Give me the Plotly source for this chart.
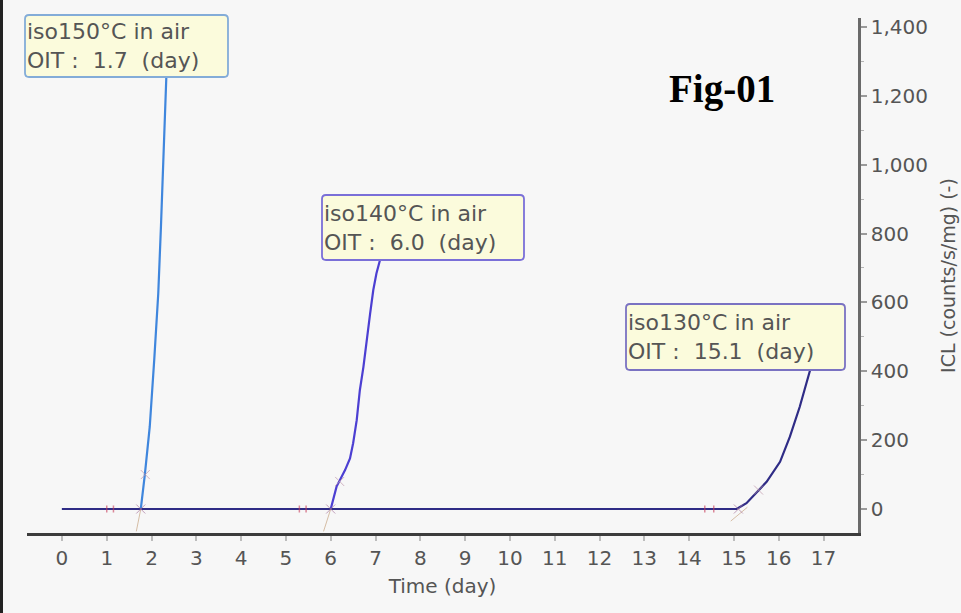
import plotly.graph_objects as go

# ---- data ----
t150 = [0, 1.76, 1.85, 1.96, 2.06, 2.15, 2.21, 2.26, 2.31, 2.33]
icl150 = [0, 0, 99, 239, 433, 626, 820, 1014, 1207, 1254]

t140 = [0, 6.0, 6.13, 6.32, 6.43, 6.50, 6.58, 6.65, 6.73, 6.80, 6.88, 6.95, 7.02, 7.10]
icl140 = [0, 0, 65, 113, 147, 191, 258, 345, 413, 491, 568, 636, 684, 723]

t130 = [0, 15.06, 15.28, 15.51, 15.73, 16.03, 16.25, 16.47, 16.70]
icl130 = [0, 0, 17, 50, 79, 137, 210, 297, 403]

# OIT construction marks
onset_t = [1.76, 6.0, 15.1]
onset_icl = [0, 0, 0]
tangent_t = [1.86, 6.2, 15.55]
tangent_icl = [100, 80, 55]
tan_lines_t = [[1.66, 1.76], [5.84, 6.0], [14.93, 15.3]]
tan_lines_icl = [[-65, 0], [-65, 0], [-35, 5]]
base_marks_t = [1.0, 1.15, 5.3, 5.45, 14.35, 14.55]
base_marks_icl = [0, 0, 0, 0, 0, 0]

labels = ["iso150°C in air", "iso140°C in air", "iso130°C in air"]
oit = ["1.7", "6.0", "15.1"]

x_ticks = list(range(0, 18))
y_ticks = [0, 200, 400, 600, 800, 1000, 1200, 1400]

# ---- layout geometry (pixels) ----
W, H = 961, 613
ML, MR, MT, MB = 27, 103, 18, 80
PW, PH = W - ML - MR, H - MT - MB


def px(x):
    return (x - ML) / PW


def py(y):
    return (H - MB - y) / PH


def rounded_rect(x0, y0, x1, y1, r=4):
    # pixel coords -> paper path
    X0, X1 = px(x0), px(x1)
    Y0, Y1 = py(y0), py(y1)  # Y0 top (larger), Y1 bottom
    rx, ry = r / PW, r / PH
    return (f"M {X0+rx} {Y0} L {X1-rx} {Y0} Q {X1} {Y0} {X1} {Y0-ry} "
            f"L {X1} {Y1+ry} Q {X1} {Y1} {X1-rx} {Y1} "
            f"L {X0+rx} {Y1} Q {X0} {Y1} {X0} {Y1+ry} "
            f"L {X0} {Y0-ry} Q {X0} {Y0} {X0+rx} {Y0} Z")


FONT = "DejaVu Sans, Verdana, sans-serif"

# ---- figure ----
fig = go.Figure()

for tx, ty in zip(tan_lines_t, tan_lines_icl):
    fig.add_trace(go.Scatter(x=tx, y=ty, mode="lines",
                             line=dict(color="rgba(190,150,110,0.6)", width=1),
                             hoverinfo="skip", showlegend=False))

fig.add_trace(go.Scatter(x=t150, y=icl150, mode="lines",
                         line=dict(color="#3f86dd", width=2.2), showlegend=False))
fig.add_trace(go.Scatter(x=t140, y=icl140, mode="lines",
                         line=dict(color="#4c3fd2", width=2.2), showlegend=False))
fig.add_trace(go.Scatter(x=t130, y=icl130, mode="lines",
                         line=dict(color="#2f2c86", width=2.2), showlegend=False))

fig.add_trace(go.Scatter(x=base_marks_t, y=base_marks_icl, mode="markers",
                         marker=dict(symbol="line-ns", size=5, color="rgba(200,60,90,0.6)",
                                     line=dict(width=1.5, color="rgba(200,60,90,0.6)")),
                         showlegend=False, hoverinfo="skip"))
fig.add_trace(go.Scatter(x=onset_t, y=onset_icl, mode="markers",
                         marker=dict(symbol="x-thin", size=9,
                                     line=dict(width=1, color="rgba(170,120,160,0.7)")),
                         showlegend=False, hoverinfo="skip"))
fig.add_trace(go.Scatter(x=tangent_t, y=tangent_icl, mode="markers",
                         marker=dict(symbol="x-thin", size=9,
                                     line=dict(width=1, color="rgba(190,150,170,0.7)")),
                         showlegend=False, hoverinfo="skip"))

boxes = [(25, 15, 228, 77), (322, 195, 524, 260), (626, 304, 845, 370)]
box_border = ["#83acd8", "#7a6fd8", "#7a72c2"]
for (x0, y0, x1, y1), lab, o, bc in zip(boxes, labels, oit, box_border):
    fig.add_shape(type="path", xref="paper", yref="paper",
                  path=rounded_rect(x0, y0, x1, y1),
                  fillcolor="#fbfbdc", line=dict(color=bc, width=1.8), layer="above")
    fig.add_annotation(
        xref="paper", yref="paper", x=px(x0 + 1), y=py((y0 + y1) / 2),
        xanchor="left", yanchor="middle",
        text=lab + "<br>OIT\u00a0:\u00a0\u00a0" + o + "\u00a0\u00a0(day)",
        showarrow=False, align="left", borderpad=0,
        font=dict(family=FONT, size=22, color="#555555"),
    )

fig.add_annotation(
    xref="paper", yref="paper", x=px(722), y=py(89), xanchor="center", yanchor="middle",
    text="<b>Fig-01</b>", showarrow=False,
    font=dict(family="Liberation Serif, Times New Roman", size=39, color="#000000"),
)

fig.add_shape(type="line", xref="paper", yref="paper",
              x0=px(1.5), x1=px(1.5), y0=py(H + 5), y1=py(-5),
              line=dict(color="#222222", width=3))

fig.update_layout(
    width=W, height=H,
    margin=dict(l=ML, r=MR, t=MT, b=MB, autoexpand=False),
    paper_bgcolor="#f7f7f7", plot_bgcolor="#f7f7f7",
    font=dict(family=FONT, color="#555555"),
    xaxis=dict(
        range=[-0.78, 17.77], tickmode="array", tickvals=x_ticks,
        ticktext=[str(v) for v in x_ticks], automargin=False,
        showline=True, linecolor="#3c3c3c", linewidth=3,
        ticks="outside", ticklen=5, tickcolor="#bdbdbd", tickwidth=1.5,
        showgrid=False, zeroline=False,
        tickfont=dict(family=FONT, size=20, color="#555555"),
        title=dict(text="Time (day)", font=dict(family=FONT, size=20, color="#555555"), standoff=10),
    ),
    yaxis=dict(
        range=[-69.7, 1426], side="right", tickmode="array", tickvals=y_ticks,
        ticktext=[f"{v:,}" for v in y_ticks], automargin=False,
        showline=True, linecolor="#6a6a6a", linewidth=2.5,
        ticks="outside", ticklen=6, tickcolor="#9a9a9a", tickwidth=1.5,
        minor=dict(ticks="outside", ticklen=3, dtick=100, tickcolor="#b5b5b5", tickwidth=1),
        showgrid=False, zeroline=False,
        tickfont=dict(family=FONT, size=20, color="#555555"),
        title=dict(text="ICL (counts/s/mg) (-)", font=dict(family=FONT, size=19, color="#555555"), standoff=15),
    ),
)

fig.write_html("out.html")
